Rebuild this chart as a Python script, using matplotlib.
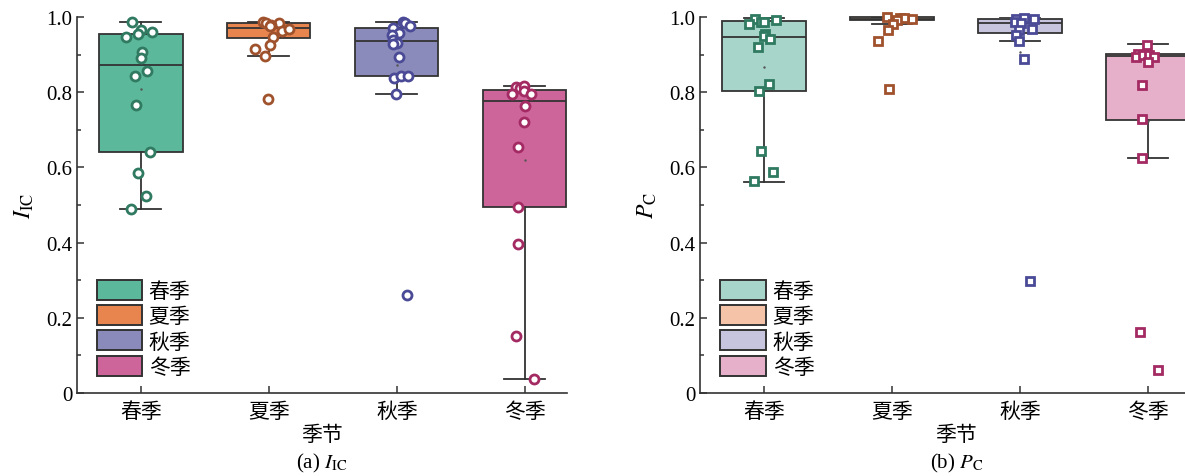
import matplotlib
matplotlib.use("Agg")
import matplotlib.pyplot as plt
from matplotlib.patches import Patch
from matplotlib.ticker import MultipleLocator, FuncFormatter
import numpy as np

plt.rcParams['font.family'] = ['Liberation Serif', 'Noto Sans CJK SC']
plt.rcParams['mathtext.fontset'] = 'stix'

seasons = ['春季', '夏季', '秋季', '冬季']

# (a) I_IC box statistics
ic_q1 = [0.642, 0.943, 0.843, 0.494]
ic_med = [0.873, 0.972, 0.935, 0.777]
ic_q3 = [0.954, 0.983, 0.972, 0.805]
ic_lo = [0.489, 0.896, 0.795, 0.037]
ic_hi = [0.987, 0.988, 0.987, 0.816]

# (a) I_IC points
ic_spring = [0.987, 0.965, 0.960, 0.948, 0.954, 0.908, 0.890, 0.857, 0.843, 0.767, 0.642, 0.584, 0.523, 0.489]
ic_summer = [0.987, 0.985, 0.984, 0.978, 0.975, 0.964, 0.967, 0.946, 0.926, 0.915, 0.896, 0.782]
ic_autumn = [0.987, 0.985, 0.975, 0.971, 0.957, 0.951, 0.939, 0.931, 0.928, 0.893, 0.837, 0.843, 0.844, 0.795, 0.261]
ic_winter = [0.813, 0.811, 0.817, 0.803, 0.795, 0.795, 0.763, 0.720, 0.654, 0.494, 0.395, 0.152, 0.037]

# (b) P_C box statistics
pc_q1 = [0.804, 0.992, 0.958, 0.727]
pc_med = [0.946, 0.996, 0.985, 0.896]
pc_q3 = [0.989, 0.999, 0.995, 0.901]
pc_lo = [0.562, 0.982, 0.937, 0.625]
pc_hi = [0.998, 1.000, 1.000, 0.929]

# (b) P_C points
pc_spring = [0.995, 0.988, 0.988, 0.992, 0.981, 0.956, 0.949, 0.942, 0.920, 0.822, 0.804, 0.644, 0.587, 0.563]
pc_summer = [0.999, 0.997, 0.995, 0.997, 0.991, 0.981, 0.966, 0.937, 0.808]
pc_autumn = [0.995, 0.997, 0.995, 0.986, 0.983, 0.965, 0.967, 0.952, 0.937, 0.887, 0.299]
pc_winter = [0.926, 0.902, 0.894, 0.898, 0.898, 0.894, 0.881, 0.819, 0.730, 0.625, 0.163, 0.061]

# horizontal jitter of the strip points (layout only)
ic_jitter = [
    [-0.07, 0.0, 0.09, -0.12, -0.02, 0.01, 0.0, 0.05, -0.05, -0.04, 0.07, -0.02, 0.04, -0.08],
    [-0.05, -0.02, 0.08, 0.02, 0.01, 0.10, 0.16, 0.03, 0.01, -0.11, -0.03, -0.01],
    [0.05, 0.06, 0.10, -0.03, 0.02, -0.04, -0.03, 0.0, -0.03, 0.02, -0.02, 0.03, 0.09, -0.01, 0.08],
    [-0.07, -0.04, -0.01, -0.01, -0.10, 0.05, 0.0, -0.01, -0.05, -0.05, -0.05, -0.07, 0.07],
]
pc_jitter = [
    [-0.07, -0.02, 0.0, 0.09, -0.12, 0.01, 0.0, 0.05, -0.05, 0.04, -0.04, -0.02, 0.07, -0.08],
    [-0.04, 0.06, 0.16, 0.09, 0.04, 0.01, -0.03, -0.11, -0.02],
    [-0.03, 0.03, 0.11, -0.04, 0.01, -0.01, 0.09, -0.03, -0.01, 0.03, 0.08],
    [-0.01, -0.08, -0.09, -0.04, 0.01, 0.05, 0.0, -0.05, -0.05, -0.05, -0.06, 0.08],
]

ic_fill = ['#5cb89b', '#e8844e', '#8a8bba', '#cd659b']
pc_fill = ['#a8d5ca', '#f5c3a8', '#c7c5de', '#e6b0cb']
edge_cols = ['#2f7a60', '#a0522d', '#4a4a96', '#a32a62']


def draw_panel(ax, q1, med, q3, lo, hi, points, jitter, fills, marker, label, xmax):
    stats = []
    for i in range(4):
        stats.append({'q1': q1[i], 'med': med[i], 'q3': q3[i], 'whislo': lo[i],
                      'whishi': hi[i], 'mean': np.mean(points[i]), 'fliers': []})
    bp = ax.bxp(stats, positions=range(4), widths=0.65, patch_artist=True,
                showmeans=True, capwidths=0.32,
                boxprops=dict(edgecolor='#333333', linewidth=1.3),
                medianprops=dict(color='#333333', linewidth=1.3),
                whiskerprops=dict(color='#333333', linewidth=1.3),
                capprops=dict(color='#333333', linewidth=1.3),
                meanprops=dict(marker='.', markersize=1.5, markerfacecolor='#555555',
                               markeredgecolor='#555555'))
    for patch, c in zip(bp['boxes'], fills):
        patch.set_facecolor(c)
        patch.set_clip_on(False)
    for i in range(4):
        xs = [i + j for j in jitter[i]]
        ax.plot(xs, points[i], linestyle='none', marker=marker,
                markersize=6.5 if marker == 'o' else 5.5,
                markerfacecolor='white', markeredgecolor=edge_cols[i], markeredgewidth=2,
                clip_on=False, zorder=5)

    ax.set_xlim(-0.5, xmax)
    ax.set_ylim(0, 1.0)
    ax.set_xticks(range(4))
    ax.set_xticklabels(seasons)
    ax.yaxis.set_major_locator(MultipleLocator(0.2))
    ax.yaxis.set_minor_locator(MultipleLocator(0.1))
    ax.yaxis.set_major_formatter(FuncFormatter(lambda v, p: '0' if abs(v) < 1e-9 else '%.1f' % v))
    ax.tick_params(direction='in', labelsize=15, length=5, width=1.1, color='#333333')
    ax.tick_params(which='minor', direction='in', length=3, width=1.1, color='#333333')
    ax.tick_params(axis='x', pad=7)
    for s in ['top', 'right']:
        ax.spines[s].set_visible(False)
    for s in ['left', 'bottom']:
        ax.spines[s].set_linewidth(1.2)
        ax.spines[s].set_color('#333333')
    ax.set_ylabel(label, fontsize=17, labelpad=7)
    ax.set_xlabel('季节', fontsize=15, labelpad=2)

    handles = [Patch(facecolor=c, edgecolor='#333333', linewidth=1.4) for c in fills]
    ax.legend(handles, seasons, loc='lower left', bbox_to_anchor=(0.04, 0.04),
              frameon=False, fontsize=15, handlelength=2.2, handleheight=1.1,
              labelspacing=0.16, handletextpad=0.3, borderpad=0, borderaxespad=0)


fig = plt.figure(figsize=(11.85, 4.77), dpi=100)
ax1 = fig.add_axes([77 / 1185, 83 / 477, 490 / 1185, 376 / 477])
ax2 = fig.add_axes([700 / 1185, 83 / 477, 512 / 1185, 376 / 477])

draw_panel(ax1, ic_q1, ic_med, ic_q3, ic_lo, ic_hi,
           [ic_spring, ic_summer, ic_autumn, ic_winter], ic_jitter, ic_fill, 'o',
           r'$I_{\mathrm{IC}}$', 3.33)
draw_panel(ax2, pc_q1, pc_med, pc_q3, pc_lo, pc_hi,
           [pc_spring, pc_summer, pc_autumn, pc_winter], pc_jitter, pc_fill, 's',
           r'$P_{\mathrm{C}}$', 3.5)

fig.text(322 / 1185, 1 - 463 / 477, r'(a) $I_{\mathrm{IC}}$', ha='center', va='center', fontsize=15)
fig.text(957 / 1185, 1 - 463 / 477, r'(b) $P_{\mathrm{C}}$', ha='center', va='center', fontsize=15)

fig.savefig('out.png', dpi=100)
